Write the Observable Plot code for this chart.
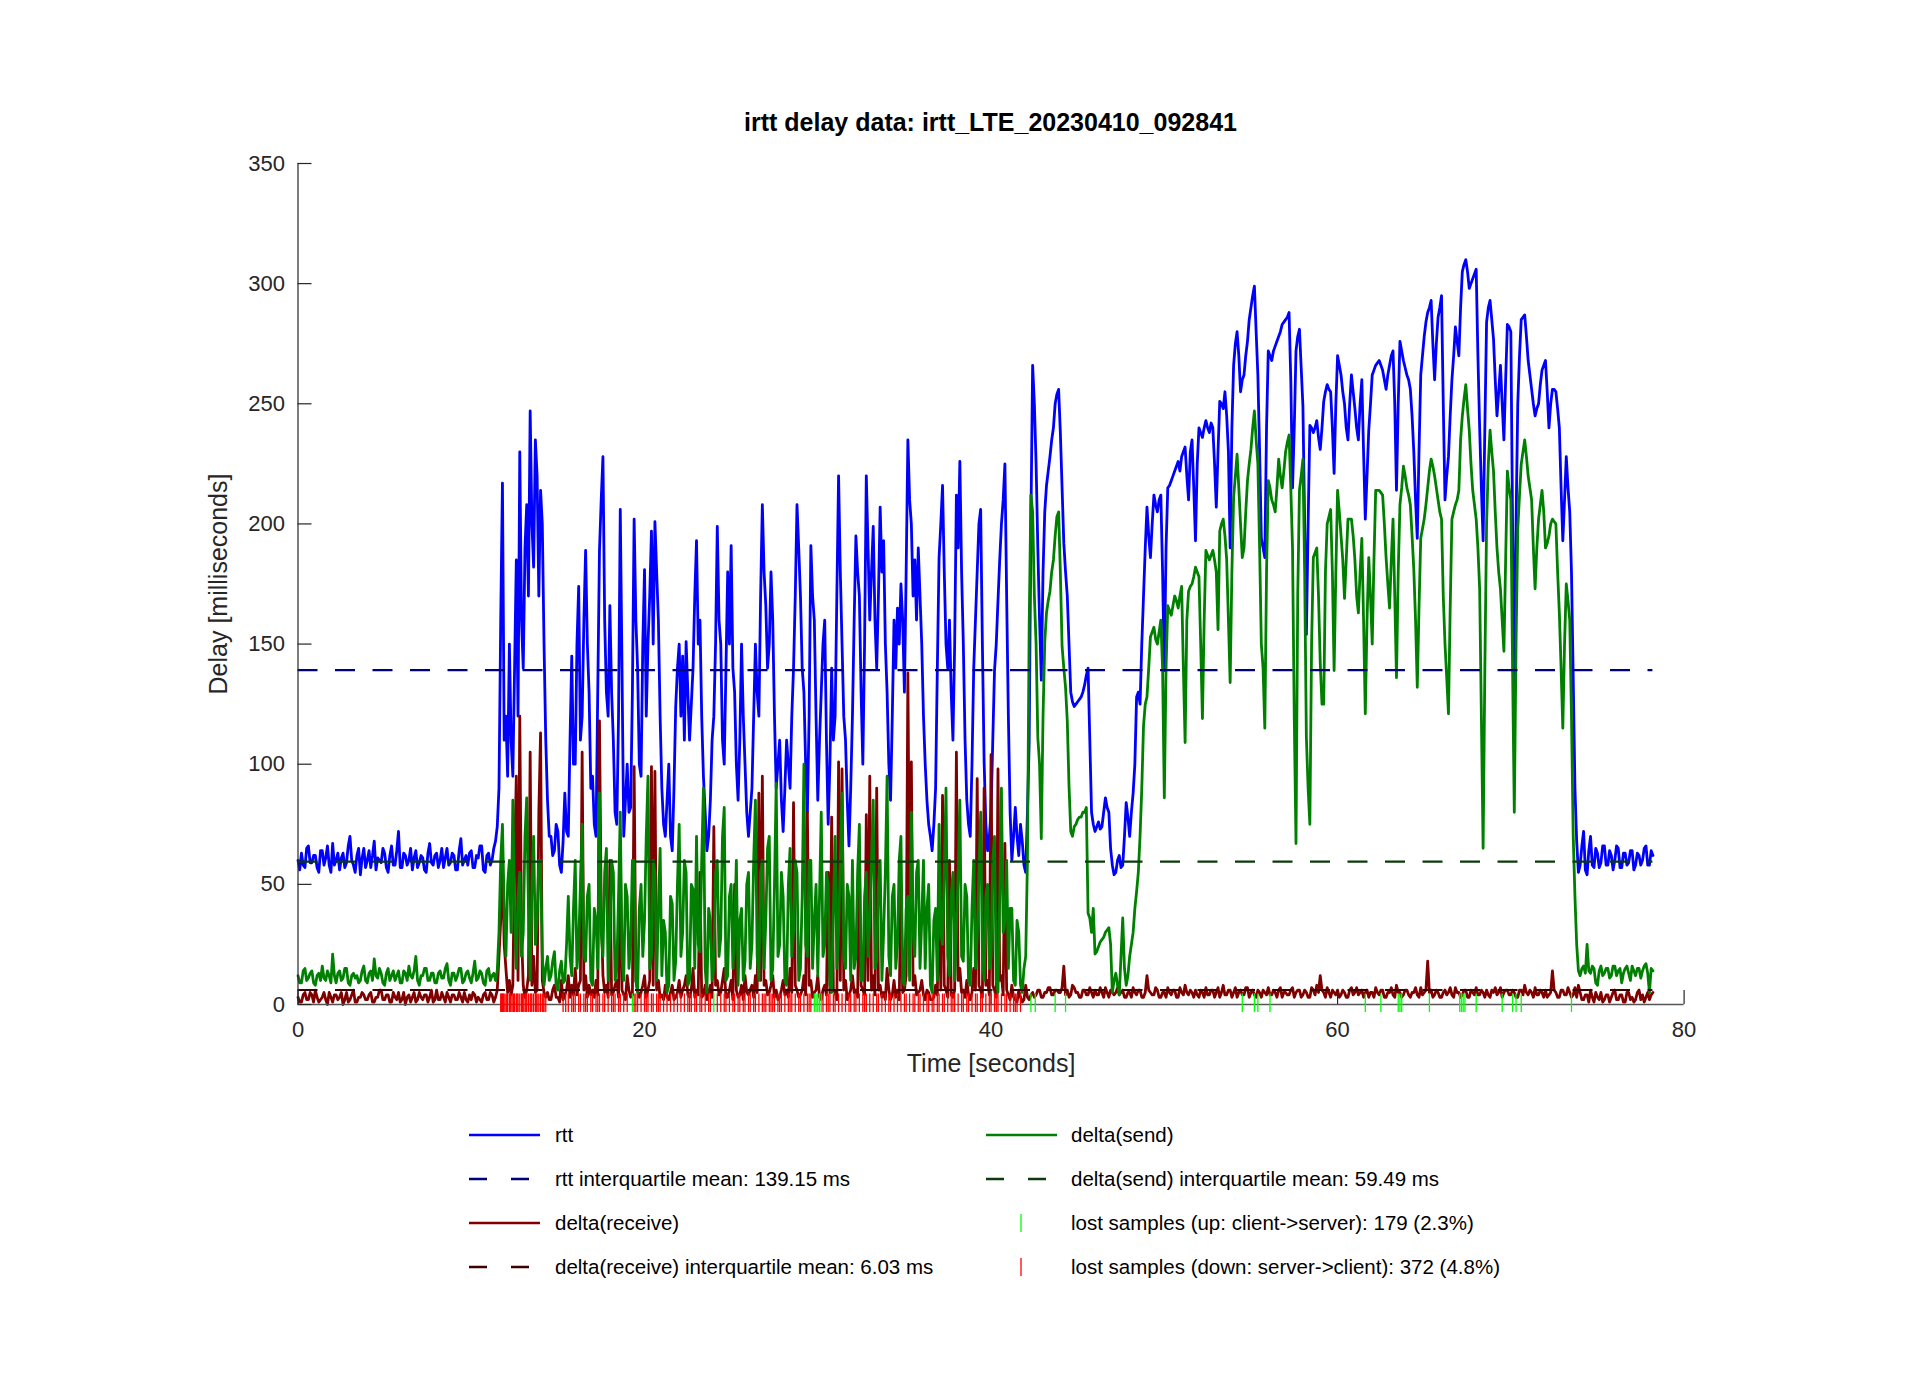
<!DOCTYPE html>
<html>
<head>
<meta charset="utf-8">
<script src="https://cdn.jsdelivr.net/npm/d3@7"></script>
<script src="https://cdn.jsdelivr.net/npm/@observablehq/plot@0.6"></script>
<style>
  html, body { margin: 0; padding: 0; background: #ffffff; }
  #page { position: relative; width: 1920px; height: 1390px; overflow: hidden; font-family: "Liberation Sans", Arial, Helvetica, sans-serif; }
  #title { position: absolute; left: 0; width: 1981px; top: 108px; text-align: center; font-weight: bold; font-size: 25px; color: #000; }
  #chart { position: absolute; left: 0; top: 0; }
  #legend { position: absolute; left: 0; top: 0; }
</style>
</head>
<body>
<div id="page">
  <div id="chart"></div>
  <div id="title">irtt delay data: irtt_LTE_20230410_092841</div>
  <svg id="legend" width="1920" height="1390"></svg>
</div>
<script>
// ---------------- data (sample spacing 0.1 s, starting at 0 s; one row = 2 s) ----------------
const dt = 0.1;

// round-trip time [ms]
const rtt = [
  60,56,63,58,57,65,66,59,59,62,62,57,55,64,64,58,61,66,58,55,
  67,58,60,63,56,61,63,57,59,66,70,60,58,55,62,65,54,61,65,57,
  60,64,57,62,68,56,61,60,59,65,63,57,55,62,66,58,58,64,72,57,
  57,63,62,58,60,65,56,61,64,57,59,62,61,56,55,63,67,59,58,62,
  63,57,60,65,57,61,65,58,59,63,62,56,56,64,69,58,60,62,58,63,
  64,57,57,62,61,66,66,56,55,62,63,58,60,65,68,74,90,160,217,110,
  120,95,150,110,95,140,185,120,230,160,140,190,208,170,247,200,182,235,220,170,
  214,200,150,110,85,70,70,62,64,75,72,58,55,68,88,72,70,110,145,100,
  100,150,174,110,120,160,189,150,130,90,95,75,70,130,189,210,228,160,130,120,
  166,130,110,80,75,120,206,140,70,85,100,80,82,130,202,160,140,100,95,150,
  181,120,150,170,197,150,201,180,160,120,90,75,70,85,100,70,64,90,124,140,
  150,120,145,110,151,130,110,125,140,170,193,150,160,120,95,80,64,70,85,110,
  120,150,199,160,150,110,100,140,180,150,191,140,130,100,85,110,150,120,100,80,
  70,80,90,120,150,130,120,170,208,180,166,140,150,180,160,120,90,100,110,85,
  72,90,110,100,90,120,140,170,208,190,170,140,130,100,80,120,191,170,160,120,
  85,110,130,150,160,110,75,100,140,110,120,170,220,180,150,120,110,85,66,90,
  120,160,195,180,170,130,100,150,220,190,160,180,199,160,140,170,207,180,193,150,
  130,100,85,120,160,140,165,150,175,160,130,180,235,210,200,170,185,160,190,170,
  150,120,100,85,75,70,64,75,90,140,186,200,216,180,150,140,160,130,110,150,
  212,190,226,180,150,110,85,75,70,100,140,160,180,200,206,150,101,75,64,70,
  80,110,139,150,168,185,200,210,225,170,120,80,60,70,82,70,62,75,68,58,
  55,80,109,200,266,250,225,190,160,135,180,205,216,222,228,235,240,250,254,256,
  238,215,192,180,170,150,130,126,124,125,126,127,128,130,133,137,140,110,80,75,
  72,74,76,73,74,80,86,82,80,65,58,54,55,60,62,57,58,70,84,78,
  70,80,88,100,128,130,125,150,170,190,207,195,186,200,212,208,205,210,212,180,
  139,190,215,216,218,220,222,224,226,222,228,230,232,220,210,230,235,215,193,225,
  240,238,236,240,243,240,238,242,240,225,207,230,251,250,248,255,245,230,190,240,
  266,275,280,270,255,260,262,270,276,285,290,295,299,280,262,230,194,190,186,240,
  272,270,268,272,274,276,278,280,283,284,285,286,288,260,215,240,272,278,281,265,
  249,200,154,200,241,240,238,240,243,236,231,240,251,255,258,256,255,240,221,250,
  270,266,262,255,250,240,235,250,262,255,248,240,235,250,260,230,202,220,239,250,
  262,264,266,267,268,266,264,260,256,262,266,270,272,250,214,250,276,272,268,265,
  262,260,256,245,230,210,194,230,262,270,278,284,288,290,293,275,260,275,286,290,
  295,250,210,220,228,245,260,270,282,276,270,290,305,308,310,305,298,300,302,304,
  306,270,240,215,193,240,284,290,293,285,277,260,245,255,266,250,235,260,283,282,
  280,200,132,200,250,270,285,286,287,278,268,262,256,250,245,248,250,258,264,266,
  268,255,240,250,256,256,255,248,240,215,193,210,228,215,205,180,136,90,68,55,
  58,66,72,56,54,64,70,58,57,65,63,57,59,66,66,58,58,64,62,56,
  60,66,65,57,57,63,63,58,59,64,64,56,58,63,62,58,60,65,66,58,
  58,64,62
];

// delta(send) [ms]
const sendDelta = [
  12,9,9,14,15,10,11,13,14,9,8,12,13,10,16,11,10,14,12,9,
  21,12,9,13,14,10,11,15,15,9,8,12,13,11,12,9,10,14,16,10,
  9,13,14,10,19,12,11,15,13,9,8,13,15,10,12,14,10,12,14,9,
  9,14,13,10,16,12,11,14,20,10,8,12,12,15,15,10,10,13,13,9,
  9,13,14,11,11,15,17,10,8,13,13,10,12,15,15,9,10,13,14,11,
  9,13,18,10,11,14,13,9,8,14,15,10,12,13,10,14,30,60,75,40,
  20,50,60,30,85,40,15,45,55,20,30,70,86,40,10,50,70,25,35,60,
  60,20,8,15,20,10,12,18,22,8,6,14,18,9,10,25,45,20,12,40,
  60,15,25,50,75,20,18,45,50,10,8,40,35,15,88,30,20,55,65,10,
  30,60,55,10,15,45,80,20,10,50,45,15,25,60,60,10,5,40,50,20,
  35,70,95,15,20,60,55,10,40,65,12,35,30,5,8,45,42,10,18,50,
  75,20,30,60,55,8,10,50,48,15,70,25,22,60,90,15,5,40,35,10,
  15,55,60,20,28,70,82,10,12,45,50,15,30,60,8,35,40,10,18,50,
  55,15,25,60,85,20,10,55,60,15,35,65,70,10,15,50,92,20,25,55,
  45,10,8,50,65,20,30,60,55,10,15,45,100,25,20,60,60,15,35,50,
  12,45,80,20,25,55,50,8,5,40,70,15,30,60,88,20,15,50,45,10,
  60,15,20,55,75,10,10,45,55,20,35,60,85,15,18,50,60,10,30,55,
  95,20,12,45,50,15,25,60,70,10,8,40,45,10,80,30,20,55,60,15,
  35,60,15,40,50,8,5,35,40,10,75,30,25,55,90,20,12,45,55,10,
  30,55,85,20,18,50,45,10,8,40,60,15,28,55,80,20,10,45,50,15,
  20,60,70,10,5,45,90,30,35,60,15,40,40,10,8,35,30,8,5,15,
  20,60,157,212,205,170,150,111,100,69,120,151,163,168,172,180,185,195,203,205,
  180,149,140,132,118,91,72,70,74,75,77,78,78,80,80,82,38,36,30,40,
  21,22,24,26,27,28,30,31,32,25,5,10,13,8,4,20,36,15,8,12,
  20,25,30,40,47,55,70,90,116,125,128,140,153,155,157,152,150,155,160,140,
  86,140,166,164,162,166,170,168,165,170,174,140,109,160,172,174,175,178,182,180,
  178,150,119,160,189,187,185,187,189,185,180,156,197,200,202,195,185,160,134,180,
  211,220,229,215,200,186,190,205,218,225,231,240,247,235,225,190,150,140,115,180,
  218,215,210,208,205,215,227,220,215,222,230,234,237,215,190,120,67,170,214,220,
  227,180,111,90,75,150,186,188,190,170,142,125,125,180,200,203,206,180,139,180,
  214,205,195,185,169,185,202,202,202,195,185,170,163,180,194,160,121,160,186,170,
  150,185,214,214,214,213,212,200,186,175,165,185,202,170,136,180,208,215,224,220,
  215,212,208,195,181,160,132,165,194,198,202,208,215,222,227,224,220,215,210,205,
  202,170,150,136,121,165,202,205,208,210,214,235,245,252,258,248,239,225,214,208,
  202,190,173,120,65,140,200,225,239,230,222,205,190,180,173,160,147,185,222,215,
  210,140,80,150,198,212,225,230,235,228,220,215,210,190,173,190,202,208,214,205,
  190,192,195,200,202,201,200,180,163,140,115,150,175,168,160,120,70,45,25,14,
  12,15,16,13,25,14,13,16,15,9,8,14,16,12,13,15,15,11,12,16,
  16,12,14,15,9,13,15,16,13,10,16,14,12,15,15,11,14,16,17,13,
  5,15,14
];

// delta(receive) [ms]
const recvDelta = [
  3,1,1,4,5,2,2,5,4,1,6,3,1,2,3,5,2,0,5,3,
  1,4,4,2,3,5,0,2,5,1,2,4,6,1,1,3,3,5,4,2,
  2,4,5,1,1,3,3,6,6,2,2,4,4,1,1,5,3,2,5,1,
  2,5,0,3,4,1,3,5,1,2,5,3,2,4,4,1,3,6,1,2,
  6,2,2,5,3,1,5,3,1,4,4,2,2,5,3,1,5,2,1,4,
  2,5,4,1,3,2,1,4,5,2,2,5,4,1,3,6,20,35,60,25,
  15,5,10,4,8,60,95,10,120,30,8,3,6,12,105,8,20,5,6,80,
  113,10,5,3,5,2,2,6,8,3,3,1,10,2,4,6,12,3,8,4,
  15,4,8,10,105,6,12,3,8,4,6,3,10,4,118,40,12,5,8,3,
  60,4,5,8,10,3,65,6,4,2,12,6,3,4,99,10,6,3,5,8,
  12,3,6,10,99,8,97,6,10,3,4,2,8,3,2,5,8,2,3,5,
  10,3,6,8,12,4,3,6,15,3,6,4,55,3,4,8,2,5,8,3,
  74,8,10,4,5,10,15,3,3,6,10,2,50,6,3,4,8,2,12,5,
  4,6,8,3,12,5,88,10,95,8,10,4,5,8,12,3,6,2,3,6,
  10,4,6,3,15,5,84,8,6,3,4,6,12,4,80,8,10,3,5,6,
  12,3,2,6,8,4,55,5,78,6,5,2,101,10,98,6,10,2,4,6,
  12,5,6,3,60,8,6,4,79,10,95,6,12,4,90,6,8,3,5,2,
  15,6,2,4,10,3,6,2,50,5,6,12,138,30,101,8,12,4,5,6,
  10,4,2,6,5,2,2,3,8,4,50,6,87,8,6,3,60,4,3,6,
  105,10,15,5,6,3,10,4,2,5,15,6,94,8,6,3,90,8,10,4,
  104,8,6,3,98,10,12,4,67,6,4,2,8,3,2,1,6,3,1,2,
  8,3,2,4,5,3,4,6,6,3,3,5,5,7,7,4,4,6,6,5,
  5,7,16,4,6,3,4,8,7,5,5,3,3,6,6,4,4,7,5,3,
  6,4,4,7,5,3,7,5,3,6,5,4,5,7,4,5,6,3,3,5,
  5,3,7,5,4,6,6,3,3,5,12,6,5,4,4,7,6,3,3,5,
  5,3,7,5,4,6,6,3,3,7,5,4,8,5,4,6,5,3,6,4,
  3,6,5,3,7,4,4,6,6,3,5,7,3,5,8,4,4,6,6,3,
  5,7,3,5,6,4,4,7,7,3,5,6,4,3,6,5,3,6,5,4,
  7,4,4,6,5,3,6,7,3,5,5,4,4,6,7,3,5,6,6,3,
  4,6,5,3,3,7,6,4,8,5,12,6,5,3,7,5,3,6,5,4,
  6,3,4,6,5,3,3,6,7,4,5,7,4,5,6,3,5,6,3,5,
  5,3,7,5,4,6,6,3,3,5,5,7,4,3,8,5,5,3,4,6,
  6,4,3,5,5,7,4,3,7,4,5,6,18,5,6,3,4,6,5,3,
  3,5,6,4,5,7,4,3,7,5,5,3,4,6,6,3,3,6,5,4,
  7,4,4,6,5,3,6,4,3,6,5,7,4,5,7,3,5,6,6,4,
  4,6,5,3,3,6,6,4,8,5,4,6,5,3,7,4,4,6,5,3,
  6,3,4,5,14,6,5,3,3,6,6,4,4,7,5,3,4,7,3,8,
  5,2,2,4,4,1,6,3,1,5,3,2,5,1,2,4,4,1,3,5,
  6,2,2,4,4,1,1,5,5,2,3,1,2,5,6,2,4,1,3,5,
  2,4,5
];

// interquartile means [ms]
const rttIQM = 139.15;
const sendIQM = 59.49;
const recvIQM = 6.03;

// times [s] of lost samples
const lostUp = [19.3, 24.0, 29.8, 29.9, 30.0, 30.1, 30.2, 42.3, 42.55, 43.7, 44.3, 54.5, 55.2, 55.4, 56.1,
  61.6, 62.5, 63.5, 63.6, 63.7, 65.3, 67.05, 67.15, 67.25, 67.35, 68.0, 69.5, 70.1, 70.3, 70.6, 73.5];
const lostDown = [
  11.7,11.75,11.8,11.85,11.9,12.0,12.05,12.1,12.2,12.25,12.3,12.4,12.45,12.5,12.6,12.65,12.7,12.8,12.9,12.95,
  13.0,13.1,13.15,13.2,13.3,13.4,13.45,13.5,13.6,13.7,13.75,13.8,13.9,14.0,14.1,14.15,14.2,14.3,
  15.3,15.45,15.6,15.8,15.9,16.0,16.2,16.3,16.5,16.6,16.7,16.9,17.0,17.2,17.3,17.4,17.6,17.7,17.9,18.1,18.2,
  18.3,18.5,18.6,18.8,19.0,19.4,19.5,19.6,19.8,20.0,20.1,20.2,20.4,20.5,20.7,20.8,20.9,21.1,21.3,21.5,21.7,
  21.9,22.1,22.3,22.5,22.6,22.7,22.9,23.0,23.2,23.3,23.5,23.7,23.8,24.2,24.4,24.6,24.7,24.9,25.1,25.2,25.4,
  25.5,25.7,25.8,26.0,26.1,26.3,26.4,26.6,26.8,26.9,27.0,27.2,27.3,27.4,27.5,27.7,27.8,27.9,28.1,28.3,28.4,
  28.5,28.7,28.9,29.0,29.2,29.4,29.5,29.6,
  30.3,30.5,30.6,30.7,30.9,31.0,31.2,31.4,31.6,31.8,31.9,32.1,32.2,32.4,32.6,32.7,32.8,33.0,33.2,33.4,33.5,
  33.7,33.9,34.1,34.2,34.4,34.6,34.8,35.0,35.1,35.3,35.5,35.6,35.8,35.9,36.1,36.3,36.4,36.6,36.7,36.9,37.0,
  37.2,37.3,37.5,37.7,37.8,37.9,38.1,38.3,38.4,38.6,38.7,38.9,39.1,39.2,39.4,39.5,39.7,39.9,40.0,40.2,40.3,
  40.4,40.6,40.8,40.9,41.1,41.3,41.4,41.5,41.7
];

// axes
const xTicks = [0, 20, 40, 60, 80];
const yTicks = [0, 50, 100, 150, 200, 250, 300, 350];
const xDomain = [0, 80];
const yDomain = [0, 350];

const legendItems = [
  ["rtt", "delta(send)"],
  ["rtt interquartile mean: 139.15 ms", "delta(send) interquartile mean: 59.49 ms"],
  ["delta(receive)", "lost samples (up: client->server): 179 (2.3%)"],
  ["delta(receive) interquartile mean: 6.03 ms", "lost samples (down: server->client): 372 (4.8%)"]
];

// ---------------- styles ----------------
const C = {
  rtt: "#0000ff", send: "#008000", recv: "#800000",
  rttIQM: "#00007a", sendIQM: "#0b3a0b", recvIQM: "#3d0000",
  lostUp: "#00ff00", lostDown: "#ff0000", axis: "#262626"
};
const DASH = "20,17.5";
const LW = 2.8;

// ---------------- build ----------------
const toRows = arr => arr.map((v, i) => ({t: Math.round(i * dt * 10) / 10, v}));
const rttRows = toRows(rtt), sendRows = toRows(sendDelta), recvRows = toRows(recvDelta);
const tEnd = (rtt.length - 1) * dt;

const W = 1920, H = 1100;
const mL = 297.5, mR = W - 1683.6, mT = 163, mB = H - 1004;
const pxPerX = (W - mL - mR) / (xDomain[1] - xDomain[0]);
const pxPerY = (H - mT - mB) / (yDomain[1] - yDomain[0]);
const tickLen = 14;

const chart = Plot.plot({
  width: W, height: H,
  marginLeft: mL, marginRight: mR, marginTop: mT, marginBottom: mB,
  x: {domain: xDomain},
  y: {domain: yDomain},
  style: {fontFamily: '"Liberation Sans", Arial, Helvetica, sans-serif', color: C.axis, background: "transparent", overflow: "visible"},
  marks: [
    Plot.axisX({ticks: xTicks, tickSize: 0, tickPadding: 17, label: null, fontSize: 22}),
    Plot.axisY({ticks: yTicks, tickSize: 0, tickPadding: 13, label: null, fontSize: 22}),
    Plot.lineY(rttRows, {x: "t", y: "v", stroke: C.rtt, strokeWidth: LW, strokeLinejoin: "round"}),
    Plot.lineY(recvRows, {x: "t", y: "v", stroke: C.recv, strokeWidth: LW, strokeLinejoin: "round"}),
    Plot.lineY(sendRows, {x: "t", y: "v", stroke: C.send, strokeWidth: LW, strokeLinejoin: "round"}),
    Plot.ruleY([rttIQM], {y: d => d, x1: 0, x2: tEnd, stroke: C.rttIQM, strokeWidth: 2.2, strokeDasharray: DASH}),
    Plot.ruleY([sendIQM], {y: d => d, x1: 0, x2: tEnd, stroke: C.sendIQM, strokeWidth: 2.2, strokeDasharray: DASH}),
    Plot.ruleY([recvIQM], {y: d => d, x1: 0, x2: tEnd, stroke: C.recvIQM, strokeWidth: 2.2, strokeDasharray: DASH}),
    // axis lines and inward ticks
    Plot.ruleX([xDomain[0]], {x: d => d, y1: yDomain[0], y2: yDomain[1], stroke: C.axis, strokeWidth: 1.2}),
    Plot.ruleY([yDomain[0]], {y: d => d, x1: xDomain[0], x2: xDomain[1], stroke: "#555", strokeWidth: 1.5}),
    Plot.ruleY(yTicks, {y: d => d, x1: xDomain[0], x2: xDomain[0] + tickLen / pxPerX, stroke: C.axis, strokeWidth: 1.2}),
    Plot.ruleX(xTicks, {x: d => d, y1: yDomain[0], y2: yDomain[0] + tickLen / pxPerY, stroke: C.axis, strokeWidth: 1.2}),
    // lost samples
    Plot.ruleX(lostDown, {x: d => d, y1: -3.3, y2: 4.4, stroke: C.lostDown, strokeWidth: 1.3}),
    Plot.ruleX(lostUp, {x: d => d, y1: -3.3, y2: 4.4, stroke: C.lostUp, strokeWidth: 1.3}),
    // axis titles
    Plot.text(["Time [seconds]"], {x: (xDomain[0] + xDomain[1]) / 2, y: yDomain[0], dy: 59, text: d => d, fontSize: 25, fill: C.axis, textAnchor: "middle", lineAnchor: "middle"}),
    Plot.text(["Delay [milliseconds]"], {x: xDomain[0], y: (yDomain[0] + yDomain[1]) / 2, dx: -79, text: d => d, fontSize: 25, fill: C.axis, rotate: -90, textAnchor: "middle", lineAnchor: "middle"})
  ]
});
document.getElementById("chart").appendChild(chart);

// ---------------- legend ----------------
const lg = d3.select("#legend").style("font-family", '"Liberation Sans", Arial, Helvetica, sans-serif');
const colX = [{line: 469, text: 555, tick: 0}, {line: 986, text: 1071, tick: 1021}];
const rowY = [1135, 1179, 1223, 1267];
const styles = [
  [{c: C.rtt, dash: null}, {c: C.send, dash: null}],
  [{c: C.rttIQM, dash: "18,24"}, {c: C.sendIQM, dash: "18,24"}],
  [{c: C.recv, dash: null}, {c: C.lostUp, tick: true}],
  [{c: C.recvIQM, dash: "18,24"}, {c: C.lostDown, tick: true}]
];
legendItems.forEach((row, r) => {
  row.forEach((label, c) => {
    const st = styles[r][c];
    const y = rowY[r];
    if (st.tick) {
      lg.append("line").attr("x1", colX[c].tick).attr("x2", colX[c].tick)
        .attr("y1", y - 9).attr("y2", y + 9).attr("stroke", st.c).attr("stroke-width", 1.3);
    } else {
      const ln = lg.append("line").attr("x1", colX[c].line).attr("x2", colX[c].line + 71)
        .attr("y1", y).attr("y2", y).attr("stroke", st.c).attr("stroke-width", 2.3);
      if (st.dash) ln.attr("stroke-dasharray", st.dash);
    }
    lg.append("text").attr("x", colX[c].text).attr("y", y).attr("dy", "0.35em")
      .attr("font-size", 20.5).attr("fill", "#000").text(label);
  });
});
</script>
</body>
</html>
